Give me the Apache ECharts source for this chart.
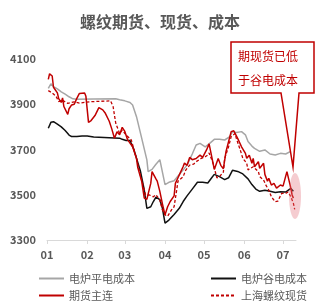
<!DOCTYPE html>
<html>
<head>
<meta charset="utf-8">
<script src="https://cdn.jsdelivr.net/npm/echarts@6/dist/echarts.min.js"></script>
<style>html,body{margin:0;padding:0;background:#fff;}#c{width:320px;height:307px;}</style>
</head>
<body>
<div id="c"></div>
<script>
// x values: day offset from 2024-01-01
const monthTickDays = [0, 31, 60, 91, 121, 152, 182];
const monthTickLabels = ['01', '02', '03', '04', '05', '06', '07'];
const yTicks = [3300, 3500, 3700, 3900, 4100];

const grayCost = [[1,3970],[3,3990],[5,3978],[8,3968],[11,3955],[14,3945],[17,3933],[20,3924],[23,3922],[36,3923],[53,3924],[56,3920],[60,3915],[64,3908],[66,3897],[69,3845],[73,3750],[77,3654],[78,3602],[81,3612],[84,3635],[87,3655],[89,3600],[91,3545],[94,3555],[98,3562],[102,3590],[105,3610],[108,3631],[112,3680],[115,3720],[118,3727],[122,3712],[125,3725],[129,3745],[133,3745],[137,3742],[141,3757],[143,3779],[146,3775],[150,3779],[153,3765],[155,3735],[158,3715],[160,3705],[164,3692],[168,3698],[172,3680],[176,3676],[180,3683],[184,3680],[188,3692],[190,3697]];

const valleyCost = [[1,3794],[3,3820],[5,3823],[8,3812],[11,3800],[14,3784],[17,3764],[19,3757],[23,3757],[27,3760],[31,3760],[36,3755],[40,3754],[48,3752],[56,3750],[58,3745],[61,3740],[64,3740],[67,3700],[69,3662],[72,3605],[75,3521],[77,3440],[80,3447],[82,3470],[84,3490],[87,3478],[89,3440],[91,3375],[94,3388],[98,3413],[102,3440],[105,3470],[108,3495],[112,3525],[116,3555],[120,3555],[124,3552],[127,3575],[129,3590],[133,3580],[137,3567],[140,3575],[143,3608],[147,3603],[151,3592],[155,3570],[158,3545],[161,3525],[164,3515],[168,3520],[172,3515],[176,3510],[180,3513],[184,3512],[188,3528],[190,3515]];

const futures = [[1,4010],[2,4035],[4,4025],[5,3975],[8,3950],[9,3925],[11,3908],[12,3928],[13,3890],[16,3855],[17,3880],[19,3897],[21,3900],[23,3926],[25,3948],[26,3955],[29,3950],[30,3935],[32,3820],[34,3828],[37,3850],[40,3885],[43,3875],[45,3860],[48,3825],[50,3790],[52,3750],[54,3778],[56,3765],[58,3798],[60,3780],[62,3745],[66,3712],[69,3660],[70,3620],[73,3560],[75,3485],[77,3480],[80,3550],[81,3602],[84,3570],[85,3560],[87,3515],[89,3460],[91,3411],[93,3447],[95,3470],[98,3495],[99,3550],[101,3575],[103,3600],[105,3625],[106,3640],[108,3630],[110,3665],[112,3655],[115,3660],[118,3675],[120,3665],[123,3698],[125,3725],[129,3612],[132,3660],[134,3630],[136,3615],[138,3690],[140,3735],[142,3779],[144,3783],[145,3771],[147,3749],[150,3712],[151,3720],[153,3683],[154,3661],[156,3675],[158,3639],[159,3661],[160,3624],[163,3646],[164,3617],[167,3639],[168,3590],[170,3560],[171,3573],[173,3543],[175,3550],[177,3529],[180,3543],[182,3538],[185,3602],[186,3595],[188,3529],[189,3499],[190,3485]];

const spot = [[1,3960],[4,3950],[7,3935],[9,3912],[12,3919],[14,3910],[16,3904],[19,3908],[21,3911],[25,3905],[29,3908],[33,3911],[49,3915],[51,3889],[53,3816],[56,3771],[58,3786],[61,3764],[65,3742],[69,3661],[71,3609],[74,3543],[76,3499],[79,3499],[82,3491],[84,3500],[87,3477],[89,3433],[91,3411],[93,3405],[96,3433],[98,3447],[100,3521],[101,3560],[105,3580],[107,3609],[110,3631],[113,3635],[115,3646],[119,3661],[122,3668],[124,3676],[125,3685],[128,3640],[131,3575],[133,3580],[136,3600],[137,3661],[140,3712],[142,3757],[145,3771],[146,3749],[149,3698],[151,3661],[154,3639],[155,3610],[159,3624],[163,3602],[164,3580],[167,3565],[169,3540],[171,3521],[173,3491],[176,3469],[178,3472],[181,3506],[184,3506],[186,3512],[188,3491],[190,3462],[191,3435]];

const names = ['电炉平电成本', '电炉谷电成本', '期货主连', '上海螺纹现货'];
const RED = '#C00000';
const TXT = '#595959';
const SOLID_ICON = 'path://M0,0h25v2h-25z';
const DASH_ICON = 'path://M0,0h3v2h-3z M5,0h3v2h-3z M10,0h3v2h-3z M15,0h3v2h-3z M20,0h3v2h-3z M25,0h0.01v2h-0.01z';

const chart = echarts.init(document.getElementById('c'));
const legendBase = {
  orient: 'horizontal', itemWidth: 25, itemHeight: 2,
  textStyle: { color: TXT, fontSize: 11, fontFamily: 'Noto Sans CJK SC' },
  selectedMode: false
};
chart.setOption({
  animation: false,
  backgroundColor: '#fff',
  textStyle: { fontFamily: 'Noto Sans CJK SC, sans-serif' },
  title: {
    text: '螺纹期货、现货、成本', left: 'center', top: 9,
    textStyle: { fontSize: 16, fontWeight: 'bold', color: TXT, fontFamily: 'Noto Sans CJK SC' }
  },
  legend: [
    Object.assign({}, legendBase, { data: [{ name: names[0], icon: SOLID_ICON }], left: 34, top: 268 }),
    Object.assign({}, legendBase, { data: [{ name: names[1], icon: SOLID_ICON }], left: 206, top: 268 }),
    Object.assign({}, legendBase, { data: [{ name: names[2], icon: SOLID_ICON }], left: 34, top: 285 }),
    Object.assign({}, legendBase, { data: [{ name: names[3], icon: DASH_ICON }], left: 206, top: 285 })
  ],
  grid: { left: 47, right: 24, top: 59, bottom: 67 },
  xAxis: {
    type: 'value', min: 0, max: 192,
    axisLine: { show: true, lineStyle: { color: '#D9D9D9', width: 1 } },
    axisTick: { show: true, length: 4, lineStyle: { color: '#D9D9D9' }, customValues: monthTickDays },
    splitLine: { show: false },
    axisLabel: {
      customValues: monthTickDays,
      formatter: function (v) { const i = monthTickDays.indexOf(v); return i >= 0 ? monthTickLabels[i] : ''; },
      color: TXT, fontSize: 11, fontWeight: 'bold', margin: 9
    }
  },
  yAxis: {
    type: 'value', min: yTicks[0], max: yTicks[yTicks.length - 1], interval: 200,
    axisLine: { show: false }, axisTick: { show: false }, splitLine: { show: false },
    axisLabel: { color: TXT, fontSize: 11, fontWeight: 'bold', margin: 11, formatter: function (v) { return String(v); } }
  },
  series: [
    { name: names[0], type: 'line', data: grayCost, symbol: 'none', lineStyle: { color: '#A6A6A6', width: 1.5 }, itemStyle: { color: '#A6A6A6' }, z: 2 },
    { name: names[1], type: 'line', data: valleyCost, symbol: 'none', lineStyle: { color: '#111111', width: 1.5 }, itemStyle: { color: '#111111' }, z: 3 },
    { name: names[3], type: 'line', data: spot, symbol: 'none', lineStyle: { color: RED, width: 1.3, type: [3, 2] }, itemStyle: { color: RED }, z: 4 },
    { name: names[2], type: 'line', data: futures, symbol: 'none', lineStyle: { color: RED, width: 1.5 }, itemStyle: { color: RED }, z: 5 }
  ],
  graphic: [
    {
      type: 'ellipse', z: 100,
      shape: { cx: 295, cy: 196, rx: 6, ry: 23 },
      style: { fill: 'rgba(225,110,120,0.35)' }
    },
    {
      type: 'polygon', z: 101,
      shape: { points: [[231,42],[314,42],[314,93],[299,93],[293,167],[281,93],[231,93]] },
      style: { fill: '#fff', stroke: RED, lineWidth: 1.5 }
    },
    {
      type: 'text', z: 102, left: 238, top: 50,
      style: { text: '期现货已低', fill: RED, fontSize: 12, fontFamily: 'Noto Sans CJK SC' }
    },
    {
      type: 'text', z: 102, left: 238, top: 74,
      style: { text: '于谷电成本', fill: RED, fontSize: 12, fontFamily: 'Noto Sans CJK SC' }
    }
  ]
});
</script>
</body>
</html>
